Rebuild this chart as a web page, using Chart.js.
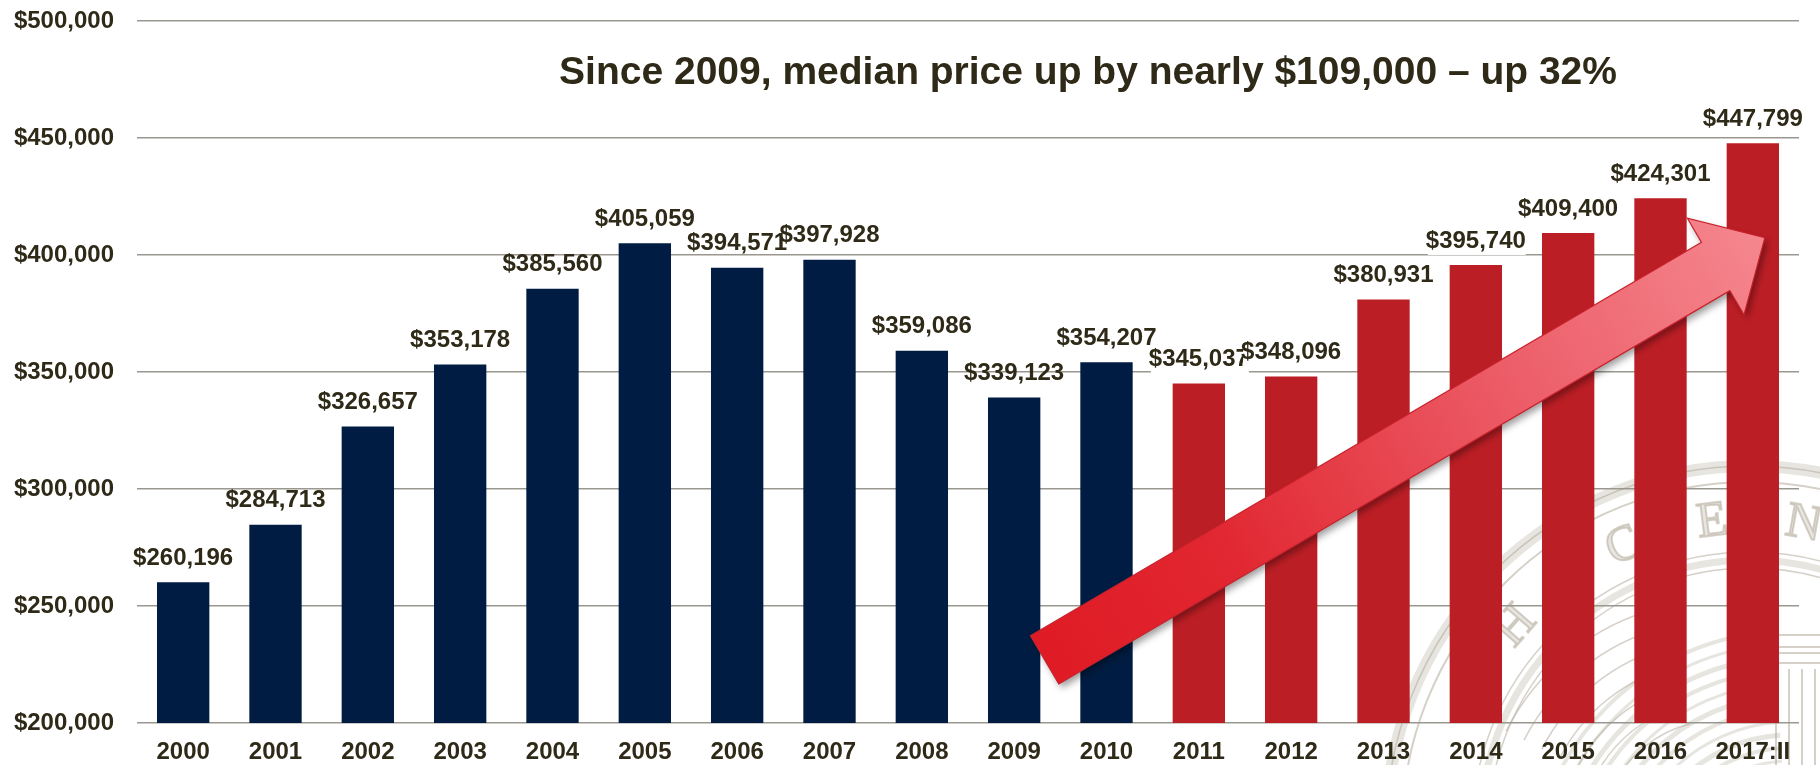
<!DOCTYPE html>
<html>
<head>
<meta charset="utf-8">
<script src="https://cdn.jsdelivr.net/npm/chart.js@4.4.1/dist/chart.umd.min.js"></script>
<style>
  html, body { margin: 0; padding: 0; background: #ffffff; }
  #wrap { width: 1820px; height: 765px; }
</style>
</head>
<body>
<div id="wrap"><canvas id="chart" width="1820" height="765"></canvas></div>
<script>
// Median home price by year
const years = ['2000', '2001', '2002', '2003', '2004', '2005', '2006', '2007', '2008',
               '2009', '2010', '2011', '2012', '2013', '2014', '2015', '2016', '2017:II'];
const medianPrices = [260196, 284713, 326657, 353178, 385560, 405059, 394571, 397928, 359086,
                      339123, 354207, 345037, 348096, 380931, 395740, 409400, 424301, 447799];
const firstRecentIndex = 11;   // bars from 2011 onward are drawn in red
const yTickValues = [200000, 250000, 300000, 350000, 400000, 450000, 500000];
const headline = 'Since 2009, median price up by nearly $109,000 \u2013 up 32%';

// Annotation anchors, in axis units (category index, price)
const headlineAnchor = { x: 9.8, y: 477800 };
const trendArrow = { from: [9.33, 227000], to: [17.13, 407400] };

const FONT = '"Liberation Sans", Arial, Helvetica, sans-serif';
const TEXT = '#2f2a18';
const NAVY = '#011c42';
const RED = '#bc1e25';

const money = v => '$' + Number(v).toLocaleString('en-US');

// Faint engraved seal watermark behind the plot
function drawSeal(ctx, cx, cy) {
  ctx.save();
  const line = 'rgba(178,170,154,0.55)';
  const soft = 'rgba(196,190,176,0.40)';
  const ring = (r, w, c) => {
    ctx.strokeStyle = c; ctx.lineWidth = w;
    ctx.beginPath(); ctx.arc(cx, cy, r, 0, Math.PI * 2); ctx.stroke();
  };
  ring(364, 12, soft);
  ring(364, 1.5, line);
  ring(348, 2, line);
  ring(270, 7, soft);
  ring(262, 1.5, line);
  ring(278, 1.5, line);
  // letters around the band
  const letters = [['H', -139], ['A', -127], ['C', -114], ['E', -97], ['N', -80], ['T', -63]];
  ctx.font = '50px "Liberation Serif", serif';
  ctx.textAlign = 'center';
  ctx.textBaseline = 'middle';
  ctx.lineWidth = 2;
  letters.forEach(([ch, deg]) => {
    const a = deg * Math.PI / 180;
    ctx.save();
    ctx.translate(cx + 310 * Math.cos(a), cy + 310 * Math.sin(a));
    ctx.rotate(a + Math.PI / 2);
    ctx.fillStyle = 'rgba(214,209,198,0.55)';
    ctx.fillText(ch, 0, 0);
    ctx.strokeStyle = line;
    ctx.strokeText(ch, 0, 0);
    ctx.restore();
  });
  // engraved sweep lines in the centre field
  ctx.strokeStyle = soft;
  for (let k = 0; k < 14; k++) {
    ctx.lineWidth = 3 + (k % 3);
    ctx.beginPath();
    ctx.arc(cx + 40, cy + 60, 90 + k * 13, Math.PI * 1.02, Math.PI * 1.48);
    ctx.stroke();
  }
  ctx.strokeStyle = line;
  ctx.lineWidth = 1.5;
  for (let k = 0; k < 7; k++) {
    ctx.beginPath();
    ctx.arc(cx - 30, cy + 10, 120 + k * 20, Math.PI * 1.15, Math.PI * 1.42);
    ctx.stroke();
  }
  // columned building at the right of the field
  ctx.strokeStyle = line;
  ctx.lineWidth = 2;
  const bx = cx + 20, by = cy - 195;
  ctx.strokeRect(bx, by, 90, 12);
  ctx.strokeRect(bx, by + 18, 90, 10);
  for (let k = 0; k < 7; k++) {
    ctx.beginPath();
    ctx.moveTo(bx + 6 + k * 13, by + 34);
    ctx.lineTo(bx + 6 + k * 13, by + 130);
    ctx.stroke();
  }
  ctx.restore();
}

function drawArrow(ctx, x0, y0, x1, y1) {
  const len = Math.hypot(x1 - x0, y1 - y0);
  const ang = Math.atan2(y1 - y0, x1 - x0);
  const hw = 28, hl = 57, hh = 56;
  ctx.save();
  ctx.translate(x0, y0);
  ctx.rotate(ang);
  ctx.beginPath();
  ctx.moveTo(0, -hw);
  ctx.lineTo(len - hl, -hw);
  ctx.lineTo(len - hl, -hh);
  ctx.lineTo(len, 0);
  ctx.lineTo(len - hl, hh);
  ctx.lineTo(len - hl, hw);
  ctx.lineTo(0, hw);
  ctx.closePath();
  const g = ctx.createLinearGradient(0, 0, len, 0);
  g.addColorStop(0, '#df1b25');
  g.addColorStop(0.25, '#e12731');
  g.addColorStop(0.65, '#ec5d68');
  g.addColorStop(1, '#f5878f');
  ctx.fillStyle = g;
  ctx.shadowColor = 'rgba(0,0,0,0.38)';
  ctx.shadowBlur = 7;
  ctx.shadowOffsetX = 3;
  ctx.shadowOffsetY = 4;
  ctx.fill();
  ctx.shadowColor = 'transparent';
  ctx.lineWidth = 1.2;
  ctx.strokeStyle = '#c9222c';
  ctx.stroke();
  ctx.restore();
}

const decorations = {
  id: 'decorations',
  beforeDraw(chart) {
    const { ctx, chartArea } = chart;
    ctx.save();
    ctx.fillStyle = '#ffffff';
    ctx.fillRect(0, 0, chart.width, chart.height);
    drawSeal(ctx, chartArea.right - 49, chartArea.bottom + 107);
    ctx.restore();
  },
  afterDatasetsDraw(chart) {
    const { ctx, scales } = chart;
    const xs = scales.x, ys = scales.y;
    // trend arrow
    drawArrow(ctx,
      xs.getPixelForValue(trendArrow.from[0]), ys.getPixelForValue(trendArrow.from[1]),
      xs.getPixelForValue(trendArrow.to[0]), ys.getPixelForValue(trendArrow.to[1]));
    // value labels above each bar; recent years sit on a white box
    const meta = chart.getDatasetMeta(0);
    ctx.save();
    ctx.font = 'bold 24px ' + FONT;
    ctx.textAlign = 'center';
    ctx.textBaseline = 'middle';
    meta.data.forEach((bar, i) => {
      const txt = money(medianPrices[i]);
      const x = bar.x, y = bar.y - 24;
      if (i >= firstRecentIndex) {
        const w = ctx.measureText(txt).width;
        ctx.fillStyle = '#ffffff';
        ctx.fillRect(x - w / 2 + 2, y - 14, w - 2, 28);
      }
      ctx.fillStyle = TEXT;
      ctx.fillText(txt, x, y);
    });
    // headline
    ctx.font = 'bold 39px ' + FONT;
    ctx.fillStyle = TEXT;
    ctx.fillText(headline, xs.getPixelForValue(headlineAnchor.x), ys.getPixelForValue(headlineAnchor.y));
    ctx.restore();
  }
};

new Chart(document.getElementById('chart'), {
  type: 'bar',
  data: {
    labels: years,
    datasets: [{
      data: medianPrices,
      backgroundColor: ctx => (ctx.dataIndex >= firstRecentIndex ? RED : NAVY),
      borderWidth: 0,
      categoryPercentage: 1,
      barPercentage: 0.567
    }]
  },
  options: {
    responsive: false,
    devicePixelRatio: 1,
    animation: false,
    layout: { padding: { top: 21, right: 21, left: 0, bottom: 0 } },
    plugins: {
      legend: { display: false },
      tooltip: { enabled: false },
      title: { display: false }
    },
    scales: {
      x: {
        afterFit: s => { s.height = 42; },
        grid: { display: false, drawTicks: false },
        border: { display: false },
        ticks: {
          padding: 15,
          color: TEXT,
          maxRotation: 0,
          autoSkip: false,
          font: { family: FONT, size: 24, weight: 'bold' }
        }
      },
      y: {
        min: 200000,
        max: 500000,
        afterBuildTicks: s => { s.ticks = yTickValues.map(v => ({ value: v })); },
        afterFit: s => { s.width = 137; s.paddingTop = 0; s.paddingBottom = 0; },
        grid: { color: '#9a978f', lineWidth: 1.6, drawTicks: false },
        border: { display: false },
        ticks: {
          padding: 23,
          color: TEXT,
          font: { family: FONT, size: 24, weight: 'bold' },
          callback: v => money(v)
        }
      }
    }
  },
  plugins: [decorations]
});
</script>
</body>
</html>
